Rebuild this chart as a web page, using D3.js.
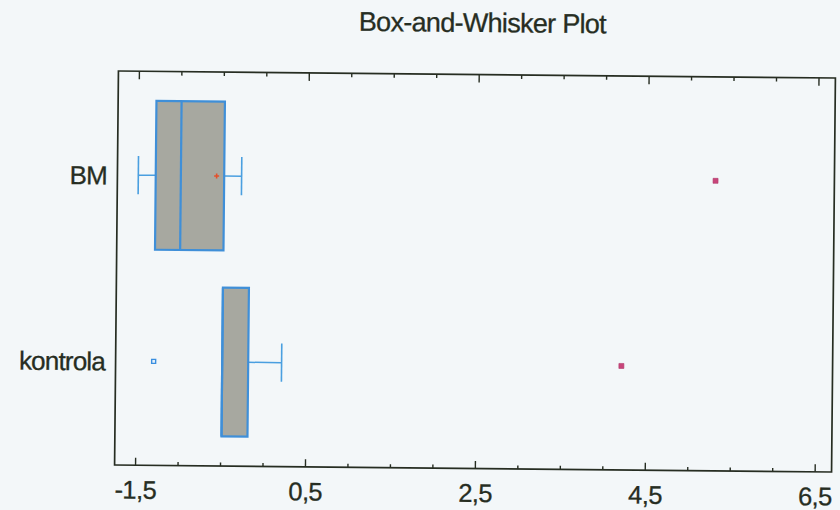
<!DOCTYPE html>
<html>
<head>
<meta charset="utf-8">
<script src="https://cdn.jsdelivr.net/npm/d3@7"></script>
<style>
  html,body{margin:0;padding:0;background:#f3f7f9;}
  svg{display:block;}
</style>
</head>
<body>
<div id="chart"></div>
<script>
// Box-and-whisker plot (scanned Statgraphics style)
const groups=["BM","kontrola"];
const whiskLo=[-1.495,-0.486];
const q1=[-1.29,-0.486];
const median=[-0.994,-0.486];
const q3=[-0.484,-0.18];
const whiskHi=[-0.279,0.213];
const means=[-0.573,null];
// outside points: far = red square, near = blue open square
const outGroup=["BM","kontrola","kontrola"];
const outValue=[5.30,-1.293,4.213];
const outFar=[true,false,true];
const majorTicks=[-1.5,0.5,2.5,4.5,6.5];
const minorTicks=[-1,-0.5,0,1,1.5,2,3,3.5,4,5,5.5,6];

const W=840,H=510;
const L=116.5,R=833.5,T=74.5,B=468.5;
const FONT="'Liberation Sans',Arial,sans-serif";
const INK="#262d22",BLUE="#3f8fd8";

const svg=d3.select("#chart").append("svg").attr("width",W).attr("height",H).style("background","#f3f7f9");
// the source is a slightly tilted scan
const root=svg.append("g").attr("transform","rotate(0.56,475,271)");

const x=d3.scaleLinear().domain([-1.741,6.699]).range([L,R]);
const y=d3.scalePoint().domain(groups).range([T,B]).padding(0.559);
const step=y.step(),bh=step*0.8,cap=step*0.206;

root.append("text").attr("x",480).attr("y",32).attr("text-anchor","middle")
  .attr("font-family",FONT).attr("font-size",27).attr("letter-spacing",-0.7)
  .attr("fill",INK).attr("stroke",INK).attr("stroke-width",0.3).text("Box-and-Whisker Plot");

// ── AXES ────────────────────────────────────────────
const fmt=d=>d3.format(".1f")(d).replace(".",",").replace("\u2212","-");
const axB=root.append("g").attr("transform",`translate(0,${B})`)
  .call(d3.axisBottom(x).tickValues(majorTicks).tickSize(-7.5).tickFormat(fmt));
const axBm=root.append("g").attr("transform",`translate(0,${B})`)
  .call(d3.axisBottom(x).tickValues(minorTicks).tickSize(-3.5).tickFormat(""));
const axT=root.append("g").attr("transform",`translate(0,${T})`)
  .call(d3.axisTop(x).tickValues(majorTicks).tickSize(-8).tickFormat(""));
const axTm=root.append("g").attr("transform",`translate(0,${T})`)
  .call(d3.axisTop(x).tickValues(minorTicks).tickSize(-4).tickFormat(""));
[axB,axBm,axT,axTm].forEach(a=>{
  a.select(".domain").remove();
  a.selectAll(".tick line").attr("stroke",INK).attr("stroke-width",1.4);
});
axB.selectAll(".tick text").attr("y",33.5).attr("dy",0)
  .attr("font-family",FONT).attr("font-size",25.5).attr("letter-spacing",-0.6)
  .attr("fill",INK).attr("stroke",INK).attr("stroke-width",0.3);

const axL=root.append("g").attr("transform",`translate(${L},0)`)
  .call(d3.axisLeft(y).tickSize(0).tickPadding(10.5));
axL.select(".domain").remove();
axL.selectAll(".tick text").attr("dy",9)
  .attr("font-family",FONT).attr("font-size",26).attr("letter-spacing",-0.8)
  .attr("fill",INK).attr("stroke",INK).attr("stroke-width",0.3);

root.append("rect").attr("x",L).attr("y",T).attr("width",R-L).attr("height",B-T)
  .attr("fill","none").attr("stroke",INK).attr("stroke-width",1.7);

// ── BOXES ───────────────────────────────────────────
groups.forEach((gname,i)=>{
  const cy=y(gname);
  const gg=root.append("g");
  // whiskers
  if(whiskLo[i]<q1[i]){
    gg.append("line").attr("x1",x(whiskLo[i])).attr("x2",x(q1[i])).attr("y1",cy).attr("y2",cy)
      .attr("stroke","#4a9fe0").attr("stroke-width",1.5);
    gg.append("line").attr("x1",x(whiskLo[i])).attr("x2",x(whiskLo[i])).attr("y1",cy-cap/2).attr("y2",cy+cap/2)
      .attr("stroke","#4a9fe0").attr("stroke-width",1.6);
  }
  if(whiskHi[i]>q3[i]){
    gg.append("line").attr("x1",x(q3[i])).attr("x2",x(whiskHi[i])).attr("y1",cy).attr("y2",cy)
      .attr("stroke","#4a9fe0").attr("stroke-width",1.5);
    gg.append("line").attr("x1",x(whiskHi[i])).attr("x2",x(whiskHi[i])).attr("y1",cy-cap/2).attr("y2",cy+cap/2)
      .attr("stroke","#4a9fe0").attr("stroke-width",1.6);
  }
  gg.append("rect").attr("x",x(q1[i])).attr("y",cy-bh/2).attr("width",x(q3[i])-x(q1[i])).attr("height",bh)
    .attr("fill","#a7a8a0").attr("stroke",BLUE).attr("stroke-width",2.2);
  gg.append("line").attr("x1",x(median[i])).attr("x2",x(median[i])).attr("y1",cy-bh/2).attr("y2",cy+bh/2)
    .attr("stroke",BLUE).attr("stroke-width",2.2);
  if(means[i]!==null){
    const mx=x(means[i]);
    gg.append("path").attr("d",`M${mx-2.5},${cy}H${mx+2.5}M${mx},${cy-2.5}V${cy+2.5}`)
      .attr("stroke","#e4502c").attr("stroke-width",1.6);
  }
});

// ── OUTSIDE POINTS ──────────────────────────────────
outValue.forEach((v,i)=>{
  const px=x(v),py=y(outGroup[i]);
  if(outFar[i]){
    root.append("rect").attr("x",px-2.5).attr("y",py-2.5).attr("width",5).attr("height",5)
      .attr("fill","#c8457a").attr("stroke","#b03a6c").attr("stroke-width",0.6);
  }else{
    root.append("rect").attr("x",px-2).attr("y",py-2).attr("width",4).attr("height",4)
      .attr("fill","#e6f1fa").attr("stroke","#3a8fe0").attr("stroke-width",1.4);
  }
});
</script>
</body>
</html>
